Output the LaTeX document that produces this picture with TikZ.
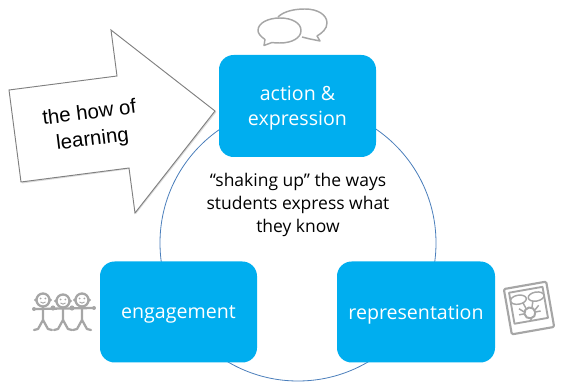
\documentclass[tikz,border=0pt]{standalone}
\usepackage{fontspec}
\setmainfont{Open Sans}
\setsansfont{Liberation Sans}
\definecolor{boxblue}{HTML}{00AEEF}
\definecolor{ringblue}{HTML}{4A7EBB}
\definecolor{icongray}{HTML}{A6A6A6}
\tikzset{
 x=0.75pt,y=-0.75pt,
 card/.style={fill=boxblue,draw=none,rounded corners=11pt,inner sep=0pt},
 cardtext/.style={text=white,font=\fontsize{14.7pt}{18.8pt}\selectfont,align=center,inner sep=0pt,yshift=-1.7pt},
 icon/.style={draw=icongray,line width=1.1pt,fill=none,line join=round},
 iconthick/.style={draw=icongray,line width=1.7pt,fill=none,line cap=round,line join=round}
}
\begin{document}
\begin{tikzpicture}
\useasboundingbox (0,0) rectangle (561,384);
\node[draw=ringblue,line width=0.6pt,circle,minimum size=276*0.75pt,inner sep=0pt] (ring) at (298,243) {};
\node[card,minimum width=157*0.75pt,minimum height=102*0.75pt,label={[cardtext]center:action \&\\expression}] (action) at (297.5,106) {};
\node[card,minimum width=157*0.75pt,minimum height=101*0.75pt,label={[cardtext]center:engagement}] (engage) at (178.5,312) {};
\node[card,minimum width=158*0.75pt,minimum height=101*0.75pt,label={[cardtext]center:representation}] (repr) at (416,312) {};
\node[align=center,font=\fontsize{13.1pt}{17.3pt}\selectfont,text=black,inner sep=0pt] (msg) at (298,205) {“shaking up” the ways\\students express what\\they know};
% arrow
\fill[black!40,opacity=.35] (112,31) -- (216.5,112) -- (136,214) -- (130.5,169) -- (22,183.5) -- (10,91) -- (118,77) -- cycle;
\draw[draw=black!50,fill=white,line width=0.7pt] (111,30) -- (215,111) -- (135,213) -- (129,168) -- (21,182) -- (9,90) -- (117,76) -- cycle;
\node[rotate=7,align=center,font=\fontsize{15.3pt}{20pt}\selectfont\sffamily,inner sep=0pt] (how) at (91,127) {the how of\\learning};
% speech bubbles
\draw[icon] (278,17) .. controls (284,11) and (295,9) .. (305,9) .. controls (318,9) and (327,15) .. (327,23) .. controls (327,29) and (322,33) .. (317,36) -- (320,41) -- (310,39) -- (302,37);
\draw[icon] (265,39.5) .. controls (260,36) and (258,33) .. (258,30.5) .. controls (258,23) and (268,18) .. (280,18) .. controls (292,18) and (301,23) .. (301,30.5) .. controls (301,38) and (292,43) .. (280,43) .. controls (277,43) and (275,43) .. (272,42.5) -- (264,45.5) -- cycle;
% people
\foreach \px/\py in {43/300,63/301,82/300}{
 \draw[iconthick] (\px,\py) circle (6.5);
 \fill[icongray] (\px-7.5,\py) circle (1.6) (\px+7.5,\py) circle (1.6);
 \fill[icongray] (\px-2.3,\py-1.5) circle (1) (\px+2.3,\py-1.5) circle (1);
 \draw[icon,line width=.7pt] (\px-2.5,\py+2) .. controls (\px-1,\py+3.5) and (\px+1,\py+3.5) .. (\px+2.5,\py+2);
 \draw[iconthick] (\px,\py+7) -- (\px,320) -- (\px-5,329) -- (\px-9,330);
 \draw[iconthick] (\px,320) -- (\px+5,329) -- (\px+9,330);
}
\draw[iconthick] (34,309) -- (94,308);
\fill[icongray] (34,309) circle (2) (53,308) circle (2.6) (72,308) circle (2.6) (94,308) circle (2);
% photo icon
\begin{scope}[rotate around={10:(529,308)}]
\draw[iconthick,line width=1.6pt,rounded corners=1pt] (507.5,285) rectangle (550.5,331);
\draw[iconthick,line width=1.4pt] (512,289.5) rectangle (546,321);
\draw[icon] (520,298) ellipse (8 and 4.5);
\draw[icon] (538,298) ellipse (8 and 4.5);
\draw[iconthick,line width=1.5pt] (529,313) circle (5.5);
\draw[icon] (524,302) -- (526,308) (534,302) -- (532,308) (529,318.5) -- (529,321) (519,307) -- (523.5,311) (539,307) -- (534.5,311) (518,313) -- (523.5,313) (540,313) -- (534.5,313);
\end{scope}
\end{tikzpicture}
\end{document}
